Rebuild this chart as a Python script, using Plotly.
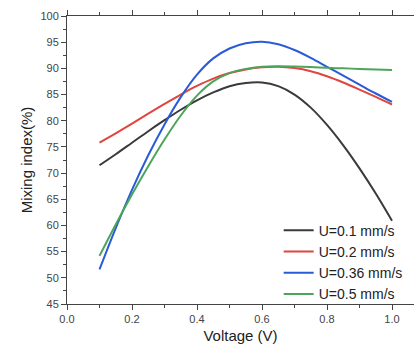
import plotly.graph_objects as go

voltage = [0.1, 0.15, 0.2, 0.25, 0.3, 0.35, 0.4, 0.45, 0.5, 0.55,
           0.6, 0.65, 0.7, 0.75, 0.8, 0.85, 0.9, 0.95, 1.0]
u01 = [71.5, 73.6, 75.8, 78.0, 80.1, 82.1, 83.9, 85.4, 86.6, 87.2,
       87.3, 86.6, 85.0, 82.5, 79.2, 75.3, 70.9, 66.1, 60.9]
u02 = [75.8, 77.6, 79.45, 81.35, 83.2, 85.0, 86.65, 88.05, 89.1, 89.8,
       90.2, 90.3, 90.05, 89.45, 88.5, 87.3, 85.95, 84.55, 83.1]
u036 = [51.6, 59.5, 66.8, 73.4, 79.3, 84.5, 88.8, 91.9, 93.8, 94.8,
        95.1, 94.6, 93.5, 92.0, 90.3, 88.6, 86.9, 85.2, 83.6]
u05 = [54.2, 60.2, 65.9, 71.3, 76.4, 81.0, 84.8, 87.5, 89.1, 89.9,
       90.3, 90.4, 90.35, 90.25, 90.1, 90.0, 89.9, 89.8, 89.7]

names = ["U=0.1 mm/s", "U=0.2 mm/s", "U=0.36 mm/s", "U=0.5 mm/s"]
series = [u01, u02, u036, u05]
colors = ["#3a3a3a", "#e0453f", "#2a5bd7", "#4ca55a"]

fig = go.Figure()
for n, s, c in zip(names, series, colors):
    fig.add_trace(go.Scatter(x=voltage, y=s, mode="lines", name=n,
                             line=dict(color=c, width=2, shape="spline", smoothing=1.0)))

axis_common = dict(showline=True, linecolor="#444", linewidth=1, ticks="outside",
                   ticklen=5, tickcolor="#444", showgrid=False, zeroline=False,
                   automargin=False, tickfont=dict(size=11, color="#444"))

fig.update_xaxes(range=[0, 1.0677], tickvals=[0.0, 0.2, 0.4, 0.6, 0.8, 1.0],
                 ticktext=["0.0", "0.2", "0.4", "0.6", "0.8", "1.0"],
                 minor=dict(ticks="outside", ticklen=3, dtick=0.1, tickcolor="#444"),
                 mirror="ticks",
                 title=dict(text="Voltage (V)", font=dict(size=15, color="#222"), standoff=6),
                 **axis_common)
fig.update_yaxes(range=[45, 100], dtick=5,
                 minor=dict(ticks="outside", ticklen=3, dtick=2.5, tickcolor="#444"),
                 title=dict(text="Mixing index(%)", font=dict(size=15, color="#222"), standoff=4),
                 **axis_common)

fig.update_layout(
    width=414, height=352,
    margin=dict(l=67, r=0, t=16, b=48, autoexpand=False),
    paper_bgcolor="white", plot_bgcolor="white",
    font=dict(family="Liberation Sans, Arial, sans-serif"),
    legend=dict(x=0.61, y=-0.02, xanchor="left", yanchor="bottom",
                bgcolor="rgba(0,0,0,0)", font=dict(size=14, color="#222"),
                tracegroupgap=0, itemwidth=30),
    showlegend=True,
)

fig.write_html("out.html", config={"displayModeBar": False},
               post_script="document.body.style.margin='0px';document.body.style.overflow='hidden';")
